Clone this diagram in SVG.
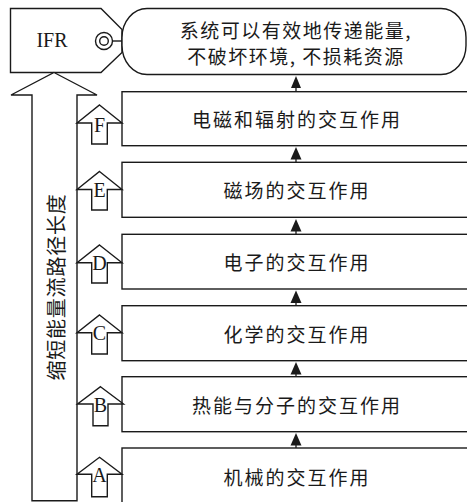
<svg xmlns="http://www.w3.org/2000/svg" width="467" height="502" viewBox="0 0 467 502">
<style>
.ln{fill:none;stroke:#1a1a1a;stroke-width:1.4;stroke-linejoin:miter}
.bx{fill:#fff;stroke:#1a1a1a;stroke-width:1.4}
.cn{font-family:"Noto Sans CJK SC","Noto Sans CJK JP",sans-serif;fill:#1a1a1a;font-weight:normal}
.lt{font-family:"Liberation Serif","Times New Roman","DejaVu Serif",serif;fill:#1a1a1a;text-anchor:middle}
.lbl{font-size:19px;letter-spacing:2px;text-anchor:middle;dominant-baseline:central}
</style>
<rect width="467" height="502" fill="#fff"/>

<g id="ifr">
<path class="bx" d="M10.5,8.5 H101 L122,29.5 V52.5 L101,72.5 H10.5 Z"/>
<text class="lt" x="52" y="47" font-size="20">IFR</text>
<circle class="ln" cx="104" cy="41" r="8.5"/>
<circle class="ln" cx="104" cy="41" r="4.3"/>
<line class="ln" x1="112.5" y1="41" x2="122" y2="41"/>
</g>

<g id="goal">
<rect class="bx" x="122" y="8.5" width="344" height="66" rx="25" ry="29"/>
<text class="cn" x="296" y="29" font-size="19" letter-spacing="1.5" text-anchor="middle" dominant-baseline="central">系统可以有效地传递能量,</text>
<text class="cn" x="296" y="55" font-size="19" letter-spacing="1.5" text-anchor="middle" dominant-baseline="central">不破坏环境, 不损耗资源</text>
</g>

<g id="bigarrow">
<path class="bx" d="M54,72.5 L97,95 H77 V500.7 H32 V95 H11 Z"/>
<text class="cn" transform="translate(55,287) rotate(-90)" font-size="20" letter-spacing="0.8" text-anchor="middle" dominant-baseline="central">缩短能量流路径长度</text>
</g>

<g id="boxF">
<rect class="bx" x="122" y="91.7" width="360" height="54"/>
<text class="cn lbl" x="297" y="118.7">电磁和辐射的交互作用</text>
<path class="bx" d="M99.5,105 L122,123 H107.3 V144 H91.7 V123 H77 Z"/>
<text class="lt" x="99.5" y="131.5" font-size="20">F</text>
</g>

<g id="boxE">
<rect class="bx" x="122" y="162.3" width="360" height="55"/>
<text class="cn lbl" x="297" y="189.8">磁场的交互作用</text>
<path class="bx" d="M99.5,171.5 L122,189.5 H107.3 V210 H91.7 V189.5 H77 Z"/>
<text class="lt" x="99.5" y="197" font-size="20">E</text>
</g>

<g id="boxD">
<rect class="bx" x="122" y="234.3" width="360" height="54.7"/>
<text class="cn lbl" x="297" y="261.5">电子的交互作用</text>
<path class="bx" d="M99.5,245 L122,262.7 H107.3 V283 H91.7 V262.7 H77 Z"/>
<text class="lt" x="99.5" y="270" font-size="20">D</text>
</g>

<g id="boxC">
<rect class="bx" x="122" y="305.7" width="360" height="55"/>
<text class="cn lbl" x="297" y="333.2">化学的交互作用</text>
<path class="bx" d="M99.5,315 L122,332.7 H107.3 V354 H91.7 V332.7 H77 Z"/>
<text class="lt" x="99.5" y="340" font-size="20">C</text>
</g>

<g id="boxB">
<rect class="bx" x="122" y="376.7" width="360" height="55"/>
<text class="cn lbl" x="297" y="404.2">热能与分子的交互作用</text>
<path class="bx" d="M100.5,386.7 L123.5,404 H108 V425.7 H93 V404 H77.5 Z"/>
<text class="lt" x="100.5" y="411.5" font-size="20">B</text>
</g>

<g id="boxA">
<rect class="bx" x="122" y="448" width="360" height="60"/>
<text class="cn lbl" x="297" y="476">机械的交互作用</text>
<path class="bx" d="M99.5,457.3 L122,474.3 H107.3 V496.7 H91.7 V474.3 H77 Z"/>
<text class="lt" x="99.5" y="481.5" font-size="20">A</text>
</g>

<g id="connectors" fill="#1a1a1a" stroke="#1a1a1a" stroke-width="1.3">
<line x1="296" y1="91.7" x2="296" y2="86"/>
<path d="M296,76 L301,88 H291 Z" stroke="none"/>
<line x1="296" y1="162.3" x2="296" y2="158"/>
<path d="M296,147 L301.5,159.5 H290.5 Z" stroke="none"/>
<line x1="296" y1="234.3" x2="296" y2="230"/>
<path d="M296,219 L301.5,231.5 H290.5 Z" stroke="none"/>
<line x1="296" y1="305.7" x2="296" y2="301"/>
<path d="M296,290.5 L301.5,303 H290.5 Z" stroke="none"/>
<line x1="296" y1="376.7" x2="296" y2="372"/>
<path d="M296,362 L301.5,374.5 H290.5 Z" stroke="none"/>
<line x1="296" y1="448" x2="296" y2="443"/>
<path d="M296,433 L301.5,445.5 H290.5 Z" stroke="none"/>
</g>
</svg>
